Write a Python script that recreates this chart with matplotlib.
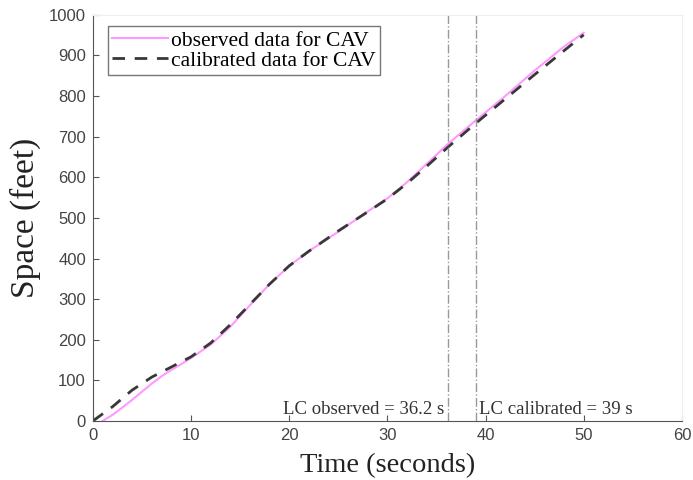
import matplotlib.pyplot as plt

# observed and calibrated trajectories (time in s, space in ft)
t_obs = [1, 2, 3, 4, 5, 6, 7, 8, 9, 10, 12, 14, 16, 18, 20, 22, 25, 28, 30, 32, 34, 36.2, 39, 42, 45, 48, 50]
s_obs = [0, 15, 33, 52, 72, 92, 110, 126, 140, 155, 188, 232, 285, 337, 382, 418, 466, 516, 548, 588, 633, 683, 740, 800, 863, 922, 956]
t_cal = [0, 2, 4, 6, 8, 10, 12, 14, 16, 18, 20, 22, 25, 28, 30, 32, 34, 36.2, 39, 42, 45, 48, 50]
s_cal = [0, 35, 76, 108, 133, 158, 192, 237, 287, 337, 382, 418, 468, 515, 547, 585, 627, 675, 733, 793, 853, 912, 951]
lc_obs = 36.2
lc_cal = 39

serif = 'Liberation Serif'
sans = 'Liberation Sans'

fig, ax = plt.subplots(figsize=(6.93, 4.8), dpi=100)
fig.subplots_adjust(left=0.134, right=0.984, top=0.969, bottom=0.123)

ax.plot(t_obs, s_obs, color='#ff99ff', lw=1.5, label='observed data for CAV')
ax.plot(t_cal, s_cal, color='#383838', lw=2.0, ls=(0, (4.5, 3.5)), label='calibrated data for CAV')
ax.axvline(lc_obs, color='#999999', lw=1, ls='-.')
ax.axvline(lc_cal, color='#999999', lw=1, ls='-.')

ax.text(lc_obs - 0.4, 8, 'LC observed = 36.2 s', ha='right', va='bottom', family=serif,
        fontsize=13.5, color='#333333')
ax.text(lc_cal + 0.3, 8, 'LC calibrated = 39 s', ha='left', va='bottom', family=serif,
        fontsize=13.5, color='#333333')

ax.set_xlim(0, 60)
ax.set_ylim(0, 1000)
ax.set_xticks(range(0, 61, 10))
ax.set_yticks(range(0, 1001, 100))
for lbl in ax.get_xticklabels() + ax.get_yticklabels():
    lbl.set_family(sans)
    lbl.set_fontsize(12)
ax.tick_params(direction='in', length=4, color='#555555', labelcolor='#444444', pad=5)

for side in ['top', 'right']:
    ax.spines[side].set_color('#eeeeee')
for side in ['left', 'bottom']:
    ax.spines[side].set_color('#555555')

ax.set_xlabel('Time (seconds)', family=serif, fontsize=20.5, labelpad=7, color='#222222')
ax.set_ylabel('Space (feet)', family=serif, fontsize=24, labelpad=6, color='#222222')

leg = ax.legend(loc='upper left', bbox_to_anchor=(0.025, 0.972), prop={'family': serif, 'size': 15.5},
                fancybox=False, edgecolor='#777777', framealpha=1, handlelength=2.6,
                handletextpad=0.15, borderpad=0.2, labelspacing=0.0, borderaxespad=0.0)
leg.get_frame().set_linewidth(1)

fig.savefig('out.png')
